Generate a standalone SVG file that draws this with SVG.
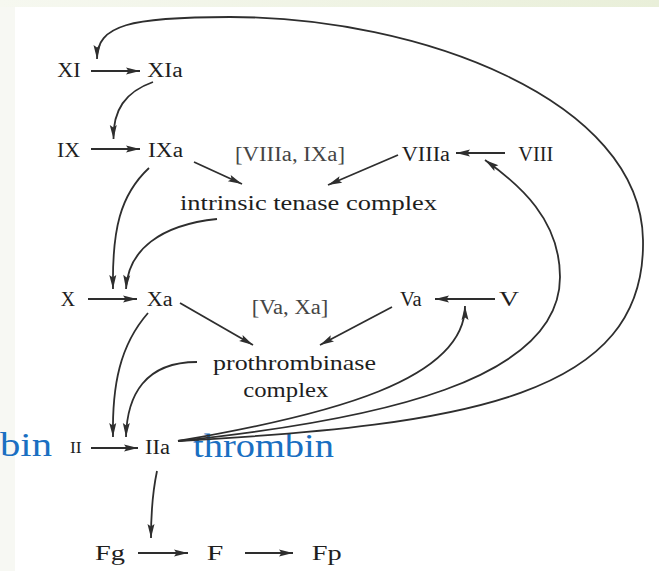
<svg xmlns="http://www.w3.org/2000/svg" width="659" height="571" viewBox="0 0 659 571">
<defs>
<linearGradient id="band" x1="0" y1="0" x2="1" y2="0">
<stop offset="0" stop-color="#f6f8f0"/>
<stop offset="1" stop-color="#e9efd9"/>
</linearGradient>
<marker id="ah" markerUnits="userSpaceOnUse" markerWidth="16" markerHeight="10" refX="14" refY="3.5" orient="auto" overflow="visible">
<path d="M0,0 L14,3.5 L0,7 L2.5,3.5 Z" fill="#2e2e2e"/>
</marker>
</defs>
<style>
.t{font-family:"Liberation Serif","Times New Roman",serif;fill:#1e1e1e;font-size:20px}
.big{font-size:22px}
.grey{fill:#454545}
.blue{font-family:"Liberation Serif","Times New Roman",serif;fill:#1a6fc2;font-size:34px}
.c{fill:none;stroke:#2e2e2e;stroke-width:1.8}
.a{marker-end:url(#ah)}
</style>
<rect x="0" y="0" width="659" height="571" fill="#ffffff"/>
<rect x="0" y="0" width="659" height="7" fill="url(#band)"/>
<rect x="0" y="7" width="15" height="564" fill="#f7f8f3"/>

<g id="thrombin-labels">
<text class="blue" x="0" y="456" textLength="52" lengthAdjust="spacingAndGlyphs">bin</text>
<text class="blue" x="193" y="456.5" textLength="141" lengthAdjust="spacingAndGlyphs">thrombin</text>
</g>

<g id="connectors">
<path class="c a" d="M91,71 L140,71"/>
<path class="c a" d="M91,149 L140,149"/>
<path class="c a" d="M88,299 L137,299"/>
<path class="c a" d="M91,448 L138,448"/>
<path class="c a" d="M138,553 L188,553"/>
<path class="c a" d="M245,553 L293,553"/>
<path class="c a" d="M505,153 L456,153"/>
<path class="c a" d="M495,299 L435,299"/>
<path class="c a" d="M194,162 L242,184"/>
<path class="c a" d="M398,155 L328,185"/>
<path class="c a" d="M180,303 L253,345"/>
<path class="c a" d="M392,307 L320,345"/>
<path class="c a" d="M153,82 C125,92 113,110 113.5,139"/>
<path class="c a" d="M149,168 C120,195 112,230 113,289"/>
<path class="c a" d="M217,219 C160,225 128,250 126,289"/>
<path class="c a" d="M148,313 C120,345 112,385 113,437"/>
<path class="c a" d="M197,362 C145,362 127,395 126,437"/>
<path class="c a" d="M157,471 C153,490 151,510 151,538"/>
<path class="c a" d="M178,441 C330,415 465,380 465,306"/>
<path class="c a" d="M178,441 C380,420 560,380 560,277 C560,220 520,185 485,160"/>
<path class="c a" d="M178,441 C470,425 646,395 643,240 C641,100 420,17 230,17 C130,17 97,25 97,59"/>
</g>

<g id="XI"><text class="t" x="57.3" y="77" textLength="23.4" lengthAdjust="spacingAndGlyphs">XI</text></g>
<g id="XIa"><text class="t" x="147.3" y="77" textLength="35.4" lengthAdjust="spacingAndGlyphs">XIa</text></g>
<g id="IX"><text class="t" x="57" y="157" textLength="23" lengthAdjust="spacingAndGlyphs">IX</text></g>
<g id="IXa"><text class="t" x="148" y="157" textLength="35" lengthAdjust="spacingAndGlyphs">IXa</text></g>
<g id="VIIIa-IXa"><text class="t grey" x="235" y="161" textLength="110" lengthAdjust="spacingAndGlyphs">[VIIIa, IXa]</text></g>
<g id="VIIIa"><text class="t" x="401.7" y="161" textLength="48.3" lengthAdjust="spacingAndGlyphs">VIIIa</text></g>
<g id="VIII"><text class="t" x="518.3" y="161" textLength="35" lengthAdjust="spacingAndGlyphs">VIII</text></g>
<g id="tenase"><text class="t big" x="180" y="210" textLength="257" lengthAdjust="spacingAndGlyphs">intrinsic tenase complex</text></g>
<g id="X"><text class="t" x="60.7" y="306" textLength="14.3" lengthAdjust="spacingAndGlyphs">X</text></g>
<g id="Xa"><text class="t" x="146.7" y="306" textLength="26" lengthAdjust="spacingAndGlyphs">Xa</text></g>
<g id="Va-Xa"><text class="t grey" x="251.7" y="314" textLength="76.6" lengthAdjust="spacingAndGlyphs">[Va, Xa]</text></g>
<g id="Va"><text class="t" x="400" y="306" textLength="21.7" lengthAdjust="spacingAndGlyphs">Va</text></g>
<g id="V"><text class="t" x="499" y="306" textLength="20" lengthAdjust="spacingAndGlyphs">V</text></g>
<g id="prothrombinase">
<text class="t big" x="213" y="370" textLength="163" lengthAdjust="spacingAndGlyphs">prothrombinase</text>
<text class="t big" x="243.3" y="397" textLength="85" lengthAdjust="spacingAndGlyphs">complex</text>
</g>
<g id="II"><text class="t" style="font-size:16px" x="70" y="453" textLength="11.7" lengthAdjust="spacingAndGlyphs">II</text></g>
<g id="IIa"><text class="t" x="145" y="454" textLength="25" lengthAdjust="spacingAndGlyphs">IIa</text></g>
<g id="Fg"><text class="t big" x="95" y="560" textLength="30" lengthAdjust="spacingAndGlyphs">Fg</text></g>
<g id="F"><text class="t big" x="206.7" y="560" textLength="16.6" lengthAdjust="spacingAndGlyphs">F</text></g>
<g id="Fp"><text class="t big" x="311.7" y="560" textLength="30" lengthAdjust="spacingAndGlyphs">Fp</text></g>
</svg>
